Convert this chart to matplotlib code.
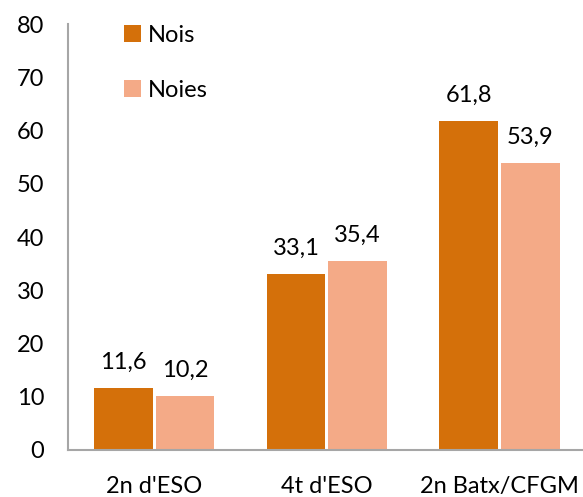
import numpy as np
import matplotlib
matplotlib.use("Agg")
import matplotlib.pyplot as plt
from matplotlib.patches import Patch

categories = ["2n d'ESO", "4t d'ESO", "2n Batx/CFGM"]
nois = [11.6, 33.1, 61.8]
noies = [10.2, 35.4, 53.9]
series_names = ["Nois", "Noies"]
y_ticks = [0, 10, 20, 30, 40, 50, 60, 70, 80]

dark = "#D4700A"
light = "#F4AA87"
text_color = "#000000"

plt.rcParams["font.family"] = ["Lato", "DejaVu Sans"]

fig = plt.figure(figsize=(5.83, 4.97), dpi=100)
ax = fig.add_axes([67.7 / 583, 47 / 497, 518 / 583, 426 / 497])

x = np.arange(len(categories))
width = 0.34
gap = 0.017
b1 = ax.bar(x - width / 2 - gap / 2, nois, width, color=dark)
b2 = ax.bar(x + width / 2 + gap / 2, noies, width, color=light)

def fmt(v):
    return ("%.1f" % v).replace(".", ",")

for bars, vals in ((b1, nois), (b2, noies)):
    for rect, v in zip(bars, vals):
        ax.annotate(fmt(v), (rect.get_x() + rect.get_width() / 2, v),
                    xytext=(0, 11), textcoords="offset points",
                    ha="center", va="bottom", fontsize=17, color=text_color)

ax.set_xlim(-0.5, len(categories) - 0.5)
ax.set_ylim(0, 80)
ax.set_yticks(y_ticks)
ax.set_xticks(x)
ax.set_xticklabels(categories)
ax.tick_params(axis="both", length=0, labelsize=17, colors=text_color)
ax.tick_params(axis="y", pad=17)
ax.tick_params(axis="x", pad=19)

for side in ("top", "right"):
    ax.spines[side].set_visible(False)
for side in ("left", "bottom"):
    ax.spines[side].set_color("#A6A6A6")
    ax.spines[side].set_linewidth(1.5)

handles = [Patch(facecolor=dark), Patch(facecolor=light)]
fig.legend(handles, series_names, loc="upper left",
           bbox_to_anchor=(112 / 583, 1 - 13 / 497), frameon=False,
           fontsize=17, handlelength=0.72, handleheight=0.72,
           handletextpad=0.3, labelspacing=1.45, borderpad=0,
           labelcolor=text_color)

fig.savefig("out.png", dpi=100)
